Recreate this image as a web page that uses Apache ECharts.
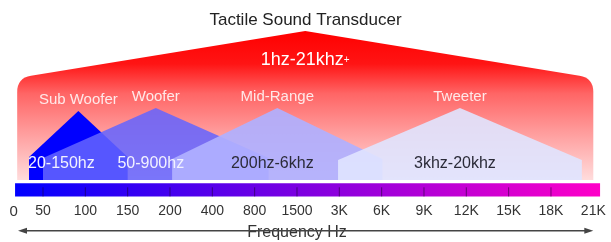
<!DOCTYPE html>
<html>
<head>
<meta charset="utf-8">
<title>Tactile Sound Transducer</title>
<script src="https://cdn.jsdelivr.net/npm/echarts@6/dist/echarts.min.js"></script>
<style>
  html, body { margin: 0; padding: 0; background: #fff; }
  #chart { width: 611px; height: 242px; }
</style>
</head>
<body>
<div id="chart"></div>
<script>
// 频率刻度
const tickLabels = ['0', '50', '100', '150', '200', '400', '800', '1500', '3K', '6K', '9K', '12K', '15K', '18K', '21K'];

// 各单元（位置用刻度序号表示）
const bandNames = ['Sub Woofer', 'Woofer', 'Mid-Range', 'Tweeter'];
const bandRanges = ['20-150hz', '50-900hz', '200hz-6khz', '3khz-20khz'];
const bandStart = [0.67, 1.0, 4.05, 7.97];
const bandEnd = [3.0, 6.33, 9.02, 13.73];
const bandShoulder = [23, 22, 21, 20];
const bandPeak = [69, 72, 72, 72];

// 整体换能器范围
const spanLabel = '1hz-21khz';
const spanStart = 0.39;
const spanEnd = 14.0;
const spanShoulder = 102;
const spanPeak = 149;

// 色条和箭头
const scaleStart = 0.34;
const scaleEnd = 14.16;
const scaleTop = -3.3;
const scaleBottom = -16.5;
const arrowStart = 0.41;
const arrowEnd = 14.0;
const arrowLevel = -50.7;

// 样式
const FONT = "'Liberation Sans', Arial, Helvetica, sans-serif";
const bandFill = ['rgba(0,0,255,1)', 'rgba(100,100,255,0.86)', 'rgba(176,176,255,0.92)', 'rgba(224,228,255,0.9)'];
const bandTextColor = ['#f2f2ff', '#f2f2ff', '#2b2b38', '#2b2b38'];

const chart = echarts.init(document.getElementById('chart'), null, { renderer: 'canvas' });

// 红色大背景（带圆角）
function renderSpan(params, api) {
  const lb = api.coord([api.value(0), 0]);
  const rb = api.coord([api.value(1), 0]);
  const sy = api.coord([api.value(0), api.value(2)])[1];
  const apex = api.coord([(api.value(0) + api.value(1)) / 2, api.value(3)]);
  const l = lb[0], r = rb[0], b = lb[1];
  const rad = 14;
  let dx = apex[0] - l, dy = apex[1] - sy, len = Math.hypot(dx, dy);
  const lx = l + dx / len * rad, ly = sy + dy / len * rad;
  dx = apex[0] - r; dy = apex[1] - sy; len = Math.hypot(dx, dy);
  const rx = r + dx / len * rad, ry = sy + dy / len * rad;
  const d = 'M' + l + ',' + b + ' L' + l + ',' + (sy + rad) + ' Q' + l + ',' + sy + ' ' + lx + ',' + ly +
    ' L' + apex[0] + ',' + apex[1] + ' L' + rx + ',' + ry + ' Q' + r + ',' + sy + ' ' + r + ',' + (sy + rad) +
    ' L' + r + ',' + b + ' Z';
  return {
    type: 'group',
    children: [
      {
        type: 'path',
        shape: { pathData: d, x: l, y: apex[1], width: r - l, height: b - apex[1], layout: 'cover' },
        style: {
          fill: new echarts.graphic.LinearGradient(0, 0, 0, 1, [
            { offset: 0, color: '#ff0000' },
            { offset: 0.22, color: '#ff1414' },
            { offset: 0.42, color: '#ff6565' },
            { offset: 0.7, color: '#ffa0a0' },
            { offset: 1, color: '#ffdcdc' }
          ])
        }
      },
      {
        type: 'text',
        x: apex[0],
        y: apex[1] + 29,
        style: {
          text: spanLabel + '{sup|+}',
          fill: '#ffffff',
          fontSize: 18,
          fontFamily: FONT,
          align: 'center',
          verticalAlign: 'middle',
          rich: { sup: { fontSize: 10, fill: '#ffffff', fontFamily: FONT } }
        }
      }
    ]
  };
}

// 各单元的“房子”形状
function renderBand(params, api) {
  const i = params.dataIndex;
  const lb = api.coord([api.value(0), 0]);
  const rb = api.coord([api.value(1), 0]);
  const sy = api.coord([api.value(0), api.value(2)])[1];
  const apex = api.coord([(api.value(0) + api.value(1)) / 2, api.value(3)]);
  const first = i === 0;
  return {
    type: 'group',
    children: [
      {
        type: 'polygon',
        z2: i,
        shape: { points: [[lb[0], lb[1]], [lb[0], sy], apex, [rb[0], sy], [rb[0], rb[1]]] },
        style: { fill: bandFill[i] }
      },
      {
        type: 'text',
        z2: 20,
        x: apex[0],
        y: apex[1] - 11,
        style: {
          text: bandNames[i],
          fill: 'rgba(255,255,255,0.85)',
          fontSize: 15,
          fontFamily: FONT,
          align: 'center',
          verticalAlign: 'middle'
        }
      },
      {
        type: 'text',
        z2: 20,
        x: first ? lb[0] - 1 : apex[0] - 5,
        y: lb[1] - 16,
        style: {
          text: bandRanges[i],
          fill: bandTextColor[i],
          fontSize: 16,
          fontFamily: FONT,
          align: first ? 'left' : 'center',
          verticalAlign: 'middle'
        }
      }
    ]
  };
}

// 渐变色条和刻度线
function renderScale(params, api) {
  const tl = api.coord([api.value(0), api.value(2)]);
  const br = api.coord([api.value(1), api.value(3)]);
  const children = [{
    type: 'rect',
    shape: { x: tl[0], y: tl[1], width: br[0] - tl[0], height: br[1] - tl[1] },
    style: {
      fill: new echarts.graphic.LinearGradient(0, 0, 1, 0, [
        { offset: 0, color: '#0000ff' },
        { offset: 0.5, color: '#8000e0' },
        { offset: 1, color: '#ff00c8' }
      ])
    }
  }];
  for (let k = 1; k < tickLabels.length - 1; k++) {
    const x = api.coord([k, 0])[0];
    children.push({
      type: 'line',
      shape: { x1: x, y1: tl[1] + 4, x2: x, y2: br[1] },
      style: { stroke: 'rgba(30,0,50,0.55)', lineWidth: 1 }
    });
  }
  return { type: 'group', children: children };
}

// 双向箭头
function renderArrow(params, api) {
  const a = api.coord([api.value(0), api.value(2)]);
  const b = api.coord([api.value(1), api.value(2)]);
  const y = a[1];
  return {
    type: 'group',
    children: [
      { type: 'line', shape: { x1: a[0] + 4, y1: y, x2: b[0] - 4, y2: y }, style: { stroke: '#444', lineWidth: 1.5 } },
      { type: 'polygon', shape: { points: [[a[0], y], [a[0] + 9, y - 3], [a[0] + 9, y + 3]] }, style: { fill: '#444' } },
      { type: 'polygon', shape: { points: [[b[0], y], [b[0] - 9, y - 3], [b[0] - 9, y + 3]] }, style: { fill: '#444' } }
    ]
  };
}

const option = {
  animation: false,
  backgroundColor: '#ffffff',
  title: {
    text: 'Tactile Sound Transducer',
    left: 'center',
    top: 7,
    textStyle: { fontSize: 17, fontWeight: 'normal', color: '#222', fontFamily: FONT }
  },
  grid: { left: 0.67, right: 17.7, top: 30, bottom: 62, outerBoundsMode: 'none' },
  xAxis: {
    type: 'value',
    min: 0,
    max: tickLabels.length - 1,
    interval: 1,
    offset: 16.5,
    axisLine: { show: false },
    axisTick: { show: false },
    splitLine: { show: false },
    axisLabel: {
      margin: 8,
      fontSize: 14,
      color: '#333',
      fontFamily: FONT,
      formatter: function (v) {
        return v === 0 ? '{z|0}' : tickLabels[v];
      },
      rich: { z: { padding: [0, 0, 0, 26], fontSize: 15, color: '#333', fontFamily: FONT } }
    },
    name: 'Frequency Hz',
    nameLocation: 'middle',
    nameGap: 26,
    nameTextStyle: { fontSize: 16, color: '#333', fontFamily: FONT }
  },
  yAxis: { type: 'value', min: 0, max: 150, show: false },
  series: [
    {
      type: 'custom',
      silent: true,
      renderItem: renderSpan,
      data: [[spanStart, spanEnd, spanShoulder, spanPeak]],
      z: 1
    },
    {
      type: 'custom',
      silent: true,
      renderItem: renderBand,
      data: bandStart.map(function (s, i) { return [s, bandEnd[i], bandShoulder[i], bandPeak[i]]; }),
      z: 2
    },
    {
      type: 'custom',
      silent: true,
      renderItem: renderScale,
      data: [[scaleStart, scaleEnd, scaleTop, scaleBottom]],
      z: 3
    },
    {
      type: 'custom',
      silent: true,
      renderItem: renderArrow,
      data: [[arrowStart, arrowEnd, arrowLevel]],
      z: 3
    }
  ]
};

chart.setOption(option);
</script>
</body>
</html>
